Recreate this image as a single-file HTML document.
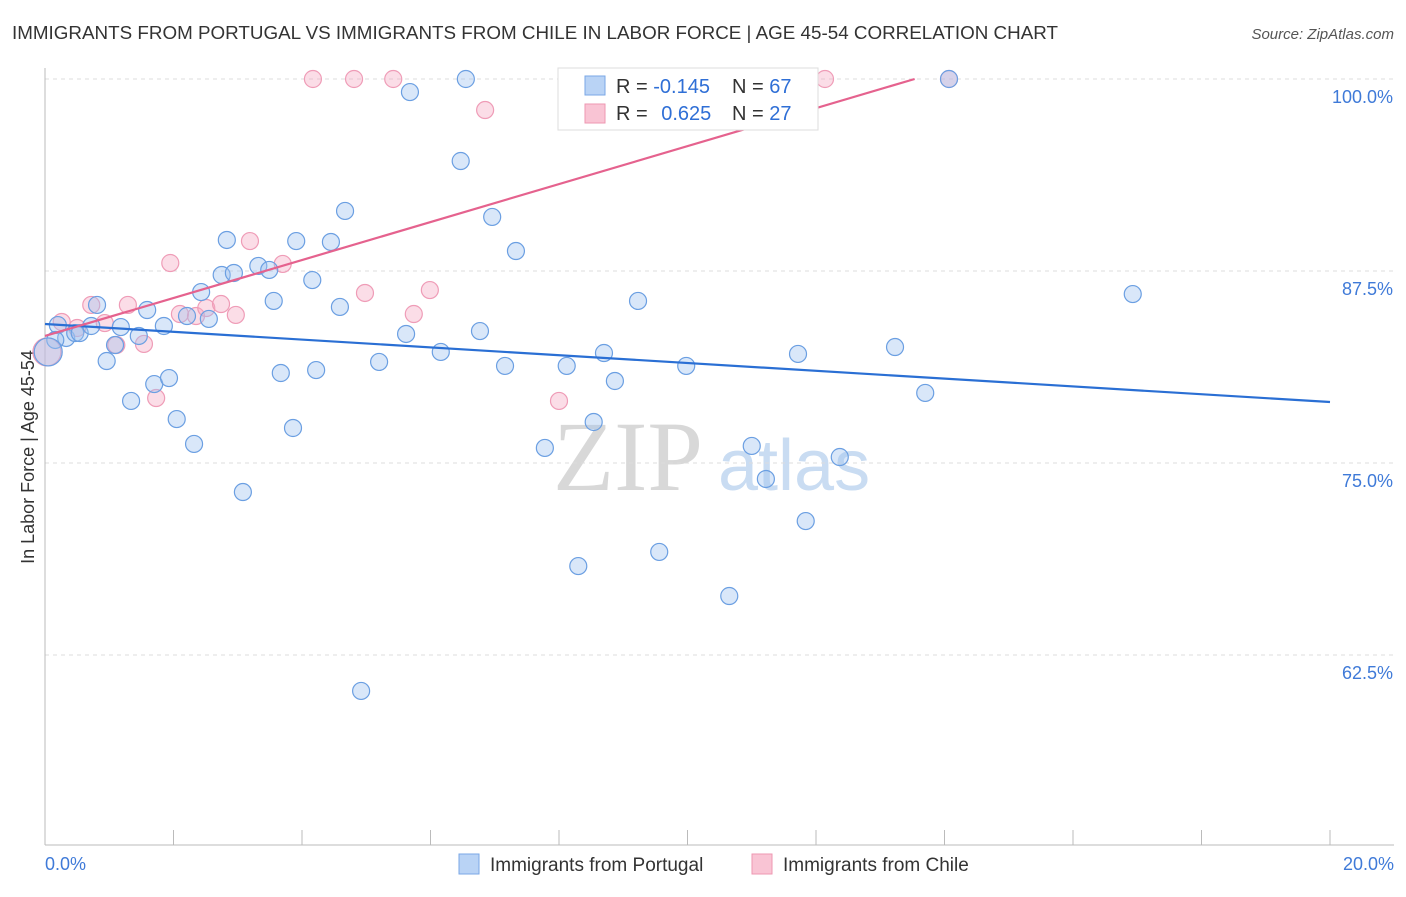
<!DOCTYPE html>
<html><head><meta charset="utf-8"><style>
body{margin:0;background:#fff;font-family:"Liberation Sans",sans-serif;}
</style></head><body>
<svg id="chart" width="1406" height="892" font-family="Liberation Sans, sans-serif">
<text x="12" y="39" font-size="18" fill="#333" textLength="1046" lengthAdjust="spacingAndGlyphs">IMMIGRANTS FROM PORTUGAL VS IMMIGRANTS FROM CHILE IN LABOR FORCE | AGE 45-54 CORRELATION CHART</text>
<text x="1394" y="39" font-size="15" fill="#555" font-style="italic" text-anchor="end">Source: ZipAtlas.com</text>
<text transform="translate(34,457) rotate(-90)" font-size="18" fill="#333" text-anchor="middle">In Labor Force | Age 45-54</text>
<text x="553" y="490" font-size="100" fill="#d8d8d8" style="font-family:'Liberation Serif',serif">ZIP</text>
<text x="718" y="490" font-size="72" fill="#c9dcf2">atlas</text>
<g id="grid"></g><g id="axes"></g><g id="pts"></g><g id="lines"></g>
<g>
<rect x="558" y="68" width="260" height="62" fill="#fff" stroke="#ddd"/>
<rect x="585" y="76" width="20" height="19" fill="#b9d3f5" stroke="#7aa7e6"/>
<rect x="585" y="104" width="20" height="19" fill="#f9c4d4" stroke="#ee97b2"/>
<text x="616" y="93" font-size="20" fill="#333">R = <tspan fill="#2f6fd6">-0.145</tspan></text>
<text x="732" y="93" font-size="20" fill="#333">N = <tspan fill="#2f6fd6">67</tspan></text>
<text x="616" y="120" font-size="20" fill="#333">R = <tspan fill="#2f6fd6" dx="8">0.625</tspan></text>
<text x="732" y="120" font-size="20" fill="#333">N = <tspan fill="#2f6fd6">27</tspan></text>
</g>
<g>
<rect x="459" y="854" width="20" height="20" fill="#b9d3f5" stroke="#7aa7e6"/>
<text x="490" y="871" font-size="19" fill="#333">Immigrants from Portugal</text>
<rect x="752" y="854" width="20" height="20" fill="#f9c4d4" stroke="#ee97b2"/>
<text x="783" y="871" font-size="19" fill="#333">Immigrants from Chile</text>
</g>
</svg>
<script>
const yTicks=[100,87.5,75,62.5];
const yTickLabels=["100.0%","87.5%","75.0%","62.5%"];
const xEndLabels=["0.0%","20.0%"];
const blueX=[0.20,0.33,0.47,0.54,0.72,0.81,0.96,1.09,1.18,1.34,1.46,1.59,1.70,1.85,1.93,2.05,2.21,2.32,2.43,2.55,2.75,2.83,2.94,3.08,3.32,3.49,3.56,3.67,3.86,3.91,4.16,4.22,4.45,4.59,4.67,4.92,5.20,5.62,5.68,6.16,6.47,6.55,6.77,6.96,7.16,7.33,7.78,8.12,8.30,8.54,8.70,8.87,9.23,9.56,9.98,10.65,11.00,11.22,11.72,11.84,12.37,13.23,13.70,14.07,16.93,0.16,0.05];
const blueY=[83.98,83.14,83.46,83.46,83.92,85.29,81.64,82.68,83.85,79.04,83.27,84.96,80.14,83.92,80.53,77.86,84.57,76.24,86.13,84.38,87.24,89.52,87.37,73.11,87.83,87.57,85.55,80.86,77.28,89.45,86.91,81.05,89.39,85.16,91.41,60.16,81.58,83.40,99.15,82.23,94.66,100,83.59,91.02,81.32,88.80,75.98,81.32,68.29,77.67,82.16,80.34,85.55,69.21,81.32,66.34,76.11,73.96,82.10,71.22,75.39,82.55,79.56,100,86.00,83.01,82.23];
const pinkX=[0.03,0.26,0.50,0.72,0.93,1.11,1.29,1.54,1.73,1.95,2.10,2.35,2.51,2.74,2.97,3.19,3.70,4.17,4.81,4.98,5.42,5.74,5.99,6.85,8.00,12.14,14.07];
const pinkY=[82.23,84.18,83.79,85.29,84.11,82.68,85.29,82.75,79.23,88.02,84.70,84.57,85.09,85.35,84.64,89.45,87.96,100,100,86.07,100,84.70,86.26,97.98,79.04,100,100];
const blueTrend=[84.05,78.97];
const pinkTrend=[83.27,1.236];
const NS="http://www.w3.org/2000/svg";
const X=v=>45+v/20*1285, Y=v=>79+(100-v)/12.5*192;
function mk(t,a,p){const e=document.createElementNS(NS,t);for(const k in a)e.setAttribute(k,a[k]);p.appendChild(e);return e;}
const grid=document.getElementById('grid'),axes=document.getElementById('axes');
yTicks.forEach((t,i)=>{
 const l=mk('line',{x1:45,x2:1394,y1:Y(t),y2:Y(t),stroke:'#ddd','stroke-dasharray':'4,4'},grid);
 
 
 const tx=mk('text',{x:1393,y:Y(t)+24,'font-size':18,fill:'#3f7ad8','text-anchor':'end'},axes);tx.textContent=yTickLabels[i];
 
 
});
const ax=mk('line',{x1:45,x2:1394,y1:845,y2:845,stroke:'#bbb'},axes);


const ay=mk('line',{x1:45,x2:45,y1:68,y2:845,stroke:'#bbb'},axes);


for(let i=1;i<=10;i++){const tk=mk('line',{x1:X(i*2),x2:X(i*2),y1:830,y2:845,stroke:'#bbb'},axes);
 
 }
[[0,'start',45],[20,'end',1394]].forEach((d,i)=>{const t=mk('text',{x:d[2],y:870,'font-size':18,fill:'#3f7ad8','text-anchor':d[1]},axes);t.textContent=xEndLabels[i];
 
 });
const pts=document.getElementById('pts');
pinkX.forEach((x,i)=>{const c=mk('circle',{cx:X(x),cy:Y(pinkY[i]),r:i==0?14:8.5,fill:'rgba(246,170,195,0.4)',stroke:'#ef9cb7','stroke-width':1.2},pts);
 
 });
blueX.forEach((x,i)=>{const c=mk('circle',{cx:X(x),cy:Y(blueY[i]),r:i==blueX.length-1?14:8.5,fill:'rgba(160,196,240,0.4)',stroke:'#6b9fe2','stroke-width':1.2},pts);
 
 });
const lines=document.getElementById('lines');
const bl=mk('line',{x1:X(0),y1:Y(blueTrend[0]),x2:X(20),y2:Y(blueTrend[1]),stroke:'#2a6fd4','stroke-width':2.2},lines);


const xEnd=(100-pinkTrend[0])/pinkTrend[1];
const pl=mk('line',{x1:X(0),y1:Y(pinkTrend[0]),x2:X(xEnd),y2:Y(100),stroke:'#e5628e','stroke-width':2.2},lines);


</script>
</body></html>
